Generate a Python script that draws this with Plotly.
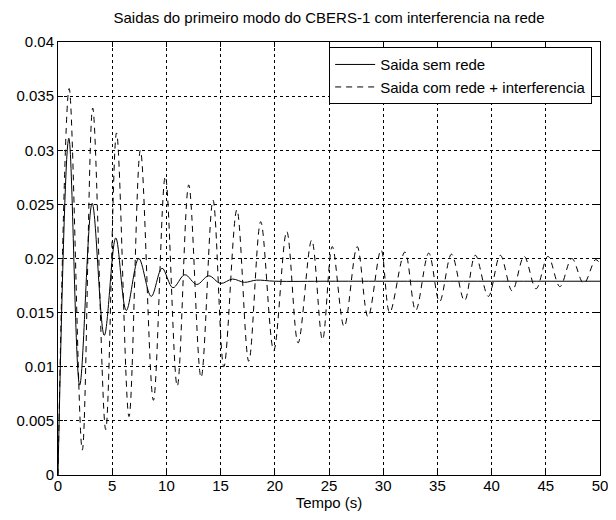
import plotly.graph_objects as go

# Solid line: "Saida sem rede" (peaks/troughs)
t_sem = [0.0, 1.0, 2.0, 3.15, 4.27, 5.33, 6.3, 7.45, 8.6, 9.6, 10.6, 11.7, 12.8,
         13.9, 15.0, 16.1, 17.2, 18.3, 20.0, 25.0, 30.0, 40.0, 50.0]
y_sem = [0.0, 0.0311, 0.0083, 0.0251, 0.0129, 0.0219, 0.0152, 0.0200, 0.0165,
         0.0191, 0.0173, 0.0185, 0.0176, 0.0184, 0.0177, 0.0181, 0.0178, 0.0180,
         0.0179, 0.0179, 0.0179, 0.0179, 0.0179]

# Dashed line: "Saida com rede + interferencia"
t_com = [0.0, 1.03, 2.24, 3.2, 4.4, 5.4, 6.55, 7.6, 8.8, 9.9, 11.0, 12.06, 13.2,
         14.3, 15.3, 16.5, 17.6, 18.7, 19.9, 21.1, 22.15, 23.4, 24.4, 25.3, 26.4,
         27.6, 28.6, 29.8, 30.6, 32.0, 33.0, 34.2, 35.2, 36.3, 37.5, 38.5, 39.7,
         40.8, 41.9, 43.0, 44.1, 45.2, 46.3, 47.4, 48.5, 49.6, 50.0]
y_com = [0.0, 0.0357, 0.0023, 0.0339, 0.0042, 0.0316, 0.0054, 0.0300, 0.0069,
         0.0276, 0.0082, 0.0268, 0.0090, 0.0254, 0.0100, 0.0245, 0.0105, 0.0234,
         0.0115, 0.0225, 0.0122, 0.0217, 0.0125, 0.0211, 0.0137, 0.0211, 0.0146,
         0.0208, 0.0150, 0.0206, 0.0152, 0.0205, 0.0160, 0.0204, 0.0161, 0.0203,
         0.0165, 0.0203, 0.0170, 0.0202, 0.0172, 0.0202, 0.0174, 0.0200, 0.0177,
         0.0199, 0.0195]

x_ticks = [0, 5, 10, 15, 20, 25, 30, 35, 40, 45, 50]
y_ticks = [0, 0.005, 0.01, 0.015, 0.02, 0.025, 0.03, 0.035, 0.04]
y_labels = ["0", "0.005", "0.01", "0.015", "0.02", "0.025", "0.03", "0.035", "0.04"]

FONT = "Liberation Sans, Arial, sans-serif"

# The page body has an 8px margin, so the figure is 8px smaller and margins shifted.
W, H = 608, 512

fig = go.Figure()
fig.add_trace(go.Scatter(x=t_sem, y=y_sem, mode="lines", name="Saida sem rede",
                         line=dict(color="black", width=1, shape="spline", smoothing=1.0)))
fig.add_trace(go.Scatter(x=t_com, y=y_com, mode="lines", name="Saida com rede + interferencia",
                         line=dict(color="black", width=1, dash="6px,5px", shape="spline", smoothing=1.0)))

axis_common = dict(showline=True, linecolor="black", linewidth=1, mirror="ticks",
                   ticks="inside", ticklen=5, tickcolor="black",
                   showgrid=True, gridcolor="black", gridwidth=1, griddash="3px,3px",
                   zeroline=False, ticklabeloverflow="allow",
                   tickfont=dict(family=FONT, size=15, color="black"))

fig.update_layout(
    width=W, height=H,
    paper_bgcolor="white", plot_bgcolor="white",
    margin=dict(l=50, r=8, t=34, b=45),
    title=dict(text="Saidas do primeiro modo do CBERS-1 com interferencia na rede",
               x=0.5, xref="paper", xanchor="center", y=1 - 10 / H, yanchor="middle",
               font=dict(family=FONT, size=15, color="black")),
    xaxis=dict(range=[0, 50], tickvals=x_ticks, ticktext=[str(v) for v in x_ticks],
               ticklabelstandoff=-3,
               title=dict(text="Tempo (s)", font=dict(family=FONT, size=15, color="black"), standoff=0),
               **axis_common),
    yaxis=dict(range=[0, 0.04], tickvals=y_ticks, ticktext=y_labels, **axis_common),
    legend=dict(x=0.9855, y=0.988, xanchor="right", yanchor="top",
                bgcolor="white", bordercolor="black", borderwidth=1,
                font=dict(family=FONT, size=15, color="black"),
                itemwidth=40, tracegroupgap=0),
    showlegend=True,
)

fig.write_html("out.html")
